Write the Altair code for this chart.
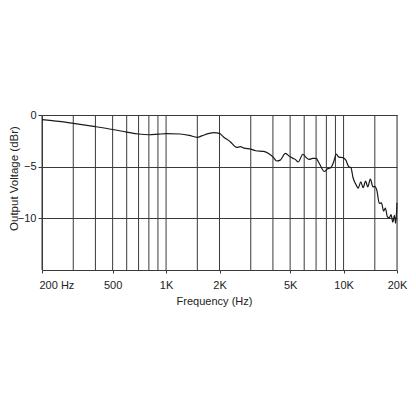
import altair as alt
import pandas as pd

freq = [200, 250, 300, 400, 500, 600, 700, 800, 900, 1000, 1200, 1350, 1500, 1600, 1750, 1860,
        2000, 2100, 2300, 2500, 2620, 2750, 3000, 3200, 3550, 3800, 4000, 4200, 4400, 4700,
        5000, 5200, 5350, 5550, 5900, 6100, 6400, 6700, 7000, 7300, 7800, 8100, 8500, 8800,
        9100, 9400, 9900, 10300, 10700, 11000, 11300, 11800, 12100, 12500, 12900, 13300,
        13700, 14150, 14650, 15000, 15400, 15900, 16350, 16800, 17200, 17650, 18100, 18500,
        18950, 19350, 19650, 19900, 20000]
db = [-0.45, -0.62, -0.81, -1.13, -1.40, -1.65, -1.84, -1.91, -1.86, -1.81, -1.84, -1.97, -2.17, -2.0, -1.78, -1.71,
      -1.78, -2.1, -2.59, -3.14, -3.07, -3.2, -3.3, -3.46, -3.52, -3.75, -4.05, -4.45, -4.37, -3.72,
      -4.05, -4.2, -4.3, -4.55, -3.8, -4.05, -4.3, -4.2, -4.2, -4.69, -5.47, -5.22, -5.08, -4.53,
      -3.79, -4.08, -4.12, -4.37, -5.0, -5.08, -6.05, -6.8, -7.07, -6.47, -7.04, -6.4,
      -6.96, -6.2, -6.96, -6.9, -7.3, -8.55, -8.5, -9.3, -9.0, -9.85, -9.95, -9.65,
      -10.36, -9.7, -10.48, -9.3, -8.5]

grid_freqs = [200, 300, 400, 500, 600, 700, 800, 900, 1000, 1500, 2000, 3000, 4000, 5000,
              6000, 7000, 8000, 9000, 10000, 15000, 20000]
x_label_values = [200, 500, 1000, 2000, 5000, 10000, 20000]
y_label_values = [0, -5, -10]

df = pd.DataFrame({"f": freq, "db": db})
gdf = pd.DataFrame({"g": grid_freqs})

FONT = "Liberation Sans"
GRID = "#3a3a3a"

xscale = alt.Scale(type="log", domain=[200, 20000], nice=False)
yscale = alt.Scale(domain=[-15, 0], nice=False)

xaxis = alt.Axis(
    values=x_label_values,
    labelExpr="datum.value == 200 ? '200 Hz' : (datum.value >= 1000 ? (datum.value / 1000) + 'K' : datum.value)",
    labelAlign={"condition": {"test": "datum.value == 200", "value": "left"}, "value": "center"},
    labelOffset={"condition": {"test": "datum.value == 200", "value": -3}, "value": 0},
    grid=False, tickSize=3, labelPadding=6, labelFlush=False,
    title="Frequency (Hz)", titleX=172, titleY=25, titleBaseline="top",
    titleFontWeight="normal", titleFontSize=11, labelFontSize=11,
    titleFont=FONT, labelFont=FONT, titleColor="#222", labelColor="#222",
    domainColor=GRID, tickColor=GRID,
)
yaxis = alt.Axis(
    values=y_label_values, grid=True, gridColor=GRID, gridOpacity=1, gridWidth=1,
    tickSize=4, labelPadding=2, format="d",
    title="Output Voltage (dBr)", titleX=-34, titleY=63, titleBaseline="top",
    titleFontWeight="normal", titleFontSize=11.5, labelFontSize=11,
    titleFont=FONT, labelFont=FONT, titleColor="#222", labelColor="#222",
    domainColor=GRID, tickColor=GRID,
)

grid = alt.Chart(gdf).mark_rule(color=GRID, strokeWidth=1).encode(
    x=alt.X("g:Q", scale=xscale, axis=xaxis, title="Frequency (Hz)")
)

line = alt.Chart(df).mark_line(color="#1a1a1a", strokeWidth=1.2, interpolate="monotone").encode(
    x=alt.X("f:Q", scale=xscale, axis=xaxis, title="Frequency (Hz)"),
    y=alt.Y("db:Q", scale=yscale, axis=yaxis, title="Output Voltage (dBr)"),
)

chart = alt.layer(grid, line).properties(
    width=355, height=155,
    autosize=alt.AutoSizeParams(type="none"),
    padding={"left": 34, "top": 107, "right": 11, "bottom": 50},
).configure_view(stroke=GRID, strokeWidth=1).configure(background="white")

chart.save("out.html", embed_options={"renderer": "svg", "actions": False})
